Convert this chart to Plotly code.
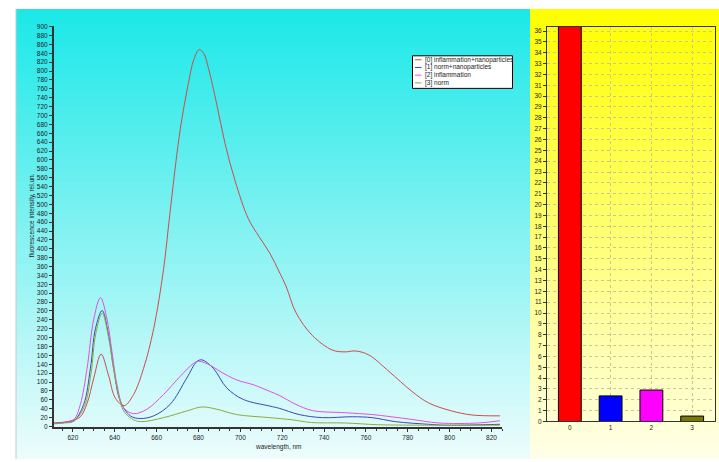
import plotly.graph_objects as go

W, H = 719, 462

# ---------------- data ----------------
series_names = ["[0] inflammation+nanoparticles", "[1] norm+nanoparticles",
                "[2] inflammation", "[3] norm"]
line_colors = ["#cf4a4a", "#3a48b0", "#e050e0", "#8aaa40"]

wl_0 = [611, 616, 620, 623.6, 626.8, 630, 633.5, 637, 640.3, 644.5, 649, 653.8, 658.6, 663.3,
        666, 669.7, 672, 675.2, 677.8, 680.3, 682.5, 684.8, 688.7, 692.7, 697.5, 703.8, 709,
        714.1, 718.6, 722, 726.5, 734.4, 744, 750, 755.1, 761.4, 771, 782, 790, 801, 810.6, 824]
int_0 = [8, 10, 14, 22, 52, 109, 163, 116, 64, 47, 72, 131, 220, 353,
         464, 613, 690, 772, 826, 848, 840, 806, 726, 637, 553, 468, 427,
         390, 348, 314, 257, 205, 172, 168, 170, 161, 124, 79, 53, 35, 26, 24]

wl_1 = [611, 616, 620.5, 625.2, 628.4, 630.8, 634, 637.1, 639.5, 642.7, 647.5, 652.2, 658.6,
        666.5, 674.4, 679.2, 681.6, 687.1, 693.5, 701.4, 714.1, 718.6, 728.1, 739.2, 753.5,
        763, 774.1, 790, 798, 824]
int_1 = [7, 9, 13, 50, 131, 220, 261, 205, 131, 57, 24, 18, 24,
         50, 109, 146, 150, 131, 87, 61, 46, 41, 27, 20, 22,
         20, 11, 5, 3, 5]

wl_2 = [611, 615.7, 620.5, 623.6, 626.8, 630, 633.2, 636.3, 638.7, 641.1, 644.3, 649, 655.4,
        663.3, 671.3, 677.6, 680, 685.6, 690.3, 698.2, 706.2, 714.1, 718.6, 726.5, 734.4,
        750.3, 763, 772, 782, 794.8, 813.8, 824]
int_2 = [7, 9, 16, 50, 131, 242, 290, 242, 168, 94, 42, 29, 39,
         72, 113, 142, 147, 138, 124, 105, 94, 79, 70, 50, 36,
         31, 27, 22, 16, 8, 8, 13]

wl_3 = [611, 616, 620.5, 625.5, 628.7, 631, 634, 637.1, 639.5, 642.7, 644.3, 648, 652.2,
        663.3, 674.4, 681.6, 688.7, 698.2, 714.1, 725, 734, 750, 766, 790, 824]
int_3 = [6, 8, 12, 45, 120, 210, 255, 200, 128, 55, 35, 18, 11,
         20, 35, 44, 39, 27, 20, 15, 9, 8, 4, 3, 3]

bar_categories = [0, 1, 2, 3]
bar_values = [36.5, 2.36, 2.9, 0.5]
bar_colors = ["#ff0000", "#0000ff", "#ff00ff", "#7a7a00"]

wls = [wl_0, wl_1, wl_2, wl_3]
ints = [int_0, int_1, int_2, int_3]

# ---------------- figure ----------------
def px_x(p):
    return p / W

def px_y(p):
    return (H - p) / H

fig = go.Figure()
FONT = "Liberation Sans, Arial, sans-serif"

for name, c, x, y in zip(series_names, line_colors, wls, ints):
    fig.add_trace(go.Scatter(x=x, y=y, mode="lines", name=name,
                             line=dict(color=c, width=1, shape="spline", smoothing=1.0),
                             xaxis="x", yaxis="y", showlegend=False, hoverinfo="skip"))

fig.add_trace(go.Bar(x=bar_categories, y=bar_values, marker=dict(color=bar_colors,
                     line=dict(color="black", width=1)), width=0.56,
                     xaxis="x2", yaxis="y2", showlegend=False))

shapes = []

def gradient(x0, x1, y0, y1, c0, c1, n=60):
    for i in range(n):
        t = i / (n - 1)
        col = tuple(round(c0[k] + (c1[k] - c0[k]) * t) for k in range(3))
        ya = y0 + (y1 - y0) * i / n
        yb = y0 + (y1 - y0) * (i + 1) / n + 0.6
        shapes.append(dict(type="rect", xref="paper", yref="paper",
                           x0=px_x(x0), x1=px_x(x1), y0=px_y(ya), y1=px_y(min(yb, y1)),
                           fillcolor="rgb(%d,%d,%d)" % col, line=dict(width=0), layer="below"))

gradient(16, 530, 6, 462, (28, 232, 232), (236, 252, 252))
gradient(530, 719, 6, 462, (255, 255, 0), (255, 255, 232))
shapes.append(dict(type="line", xref="paper", yref="paper", x0=px_x(16), x1=px_x(16),
                   y0=0, y1=px_y(6), line=dict(color="#c8c8c8", width=1)))

# legend (manual, compact)
lx0, lx1, ly0, ly1 = 412.5, 512.5, 53.5, 86.5
shapes.append(dict(type="rect", xref="paper", yref="paper", x0=px_x(lx0), x1=px_x(lx1),
                   y0=px_y(ly1), y1=px_y(ly0), fillcolor="white",
                   line=dict(color="black", width=1)))
annotations = []
for i, (name, c) in enumerate(zip(series_names, line_colors)):
    yy = 57.5 + i * 7.8
    shapes.append(dict(type="line", xref="paper", yref="paper", x0=px_x(415), x1=px_x(421.5),
                       y0=px_y(yy), y1=px_y(yy), line=dict(color=c, width=1)))
    annotations.append(dict(text=name, xref="paper", yref="paper", x=px_x(422.5), y=px_y(yy),
                            xanchor="left", yanchor="middle", showarrow=False,
                            font=dict(size=6.5, color="#222", family=FONT)))

annotations.append(dict(text="fluorescence intensity, rel.un.", xref="paper", yref="paper",
                        x=px_x(32), y=px_y(215), textangle=-90, showarrow=False,
                        xanchor="center", yanchor="middle",
                        font=dict(size=6.5, color="#222", family=FONT)))
annotations.append(dict(text="wavelength, nm", xref="paper", yref="paper",
                        x=px_x(278), y=px_y(450), showarrow=False,
                        xanchor="center", yanchor="middle",
                        font=dict(size=6.5, color="#222", family=FONT)))

tickfont = dict(size=6.5, color="#222", family=FONT)

fig.update_layout(
    width=W, height=H, margin=dict(l=0, r=0, t=0, b=0),
    paper_bgcolor="white", plot_bgcolor="rgba(0,0,0,0)",
    shapes=shapes, annotations=annotations,
    xaxis=dict(domain=[px_x(54), px_x(502)], range=[611, 825], tickmode="linear",
               tick0=620, dtick=20, ticks="outside", ticklen=3, tickcolor="#333",
               minor=dict(dtick=5, tick0=620, ticks="outside", ticklen=2, tickcolor="#333"),
               showline=True, linecolor="#333", linewidth=2, showgrid=False, zeroline=False,
               tickfont=tickfont, anchor="y"),
    yaxis=dict(domain=[px_y(430), px_y(23)], range=[-2, 902], tickmode="linear",
               tick0=0, dtick=20, ticks="outside", ticklen=3, tickcolor="#333",
               showline=True, linecolor="#333", linewidth=2, showgrid=False, zeroline=False,
               tickfont=tickfont, anchor="x"),
    xaxis2=dict(domain=[px_x(547), px_x(715)], range=[-0.56, 3.56], tickmode="array",
                tickvals=bar_categories, ticktext=[str(c) for c in bar_categories],
                ticks="", showline=True, linecolor="#333", linewidth=1, mirror=True,
                showgrid=True, gridcolor="#c8c890", griddash="dot", gridwidth=1,
                zeroline=False, tickfont=tickfont, anchor="y2"),
    yaxis2=dict(domain=[px_y(424), px_y(24)], range=[0, 36.4], tickmode="linear",
                tick0=0, dtick=1, ticks="outside", ticklen=3, tickcolor="#333",
                showline=True, linecolor="#333", linewidth=1, mirror=True,
                showgrid=True, gridcolor="#c8c890", griddash="dot", gridwidth=1,
                zeroline=False, tickfont=tickfont, anchor="x2"),
    bargap=0.44,
)

fig.write_html("out.html", config={"displayModeBar": False},
               post_script="document.body.style.margin='0';document.body.style.overflow='hidden';")
